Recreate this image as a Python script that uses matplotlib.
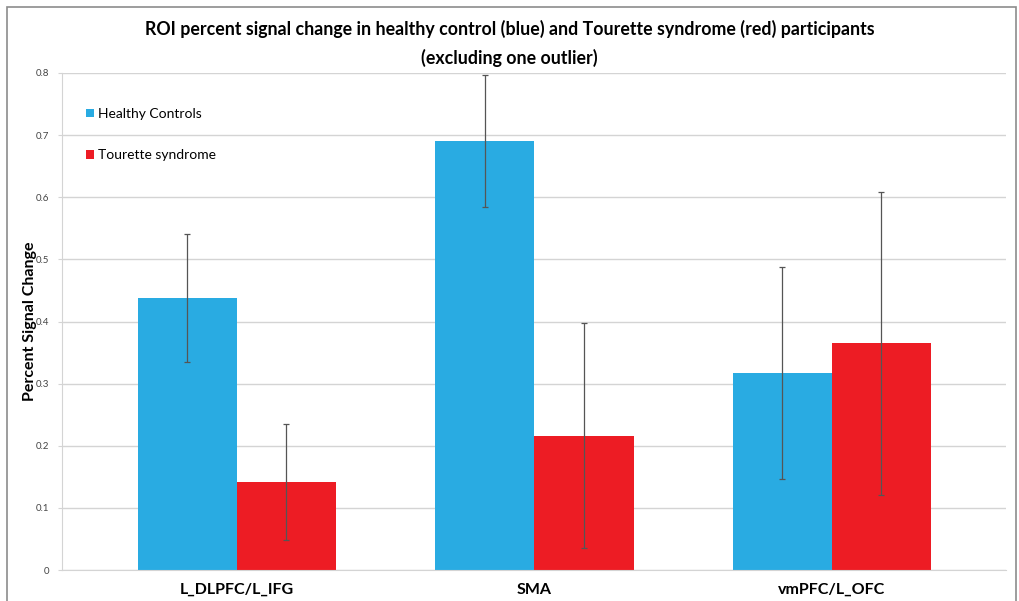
import matplotlib.pyplot as plt
import matplotlib.patches as patches
import numpy as np

regions = ["L_DLPFC/L_IFG", "SMA", "vmPFC/L_OFC"]
hc_mean = [0.438, 0.690, 0.317]
hc_err = [0.103, 0.106, 0.170]
ts_mean = [0.142, 0.216, 0.365]
ts_err = [0.093, 0.181, 0.244]

blue = "#29ABE2"
red = "#ED1C24"
grid_gray = "#D4D4D4"

plt.rcParams['font.family'] = ['Lato', 'DejaVu Sans']

fig = plt.figure(figsize=(10.19, 6.01), dpi=100)
ax = fig.add_axes([62 / 1019, 31 / 601, 944 / 1019, 497 / 601])

x = np.arange(len(regions))
w = 0.333
err_kw = dict(ecolor="#555555", elinewidth=0.9, capsize=2.5, capthick=0.9)
ax.bar(x - w / 2, hc_mean, w, color=blue, yerr=hc_err, error_kw=err_kw,
       label="Healthy Controls", zorder=2)
ax.bar(x + w / 2, ts_mean, w, color=red, yerr=ts_err, error_kw=err_kw,
       label="Tourette syndrome", zorder=2)

ax.set_xlim(-0.588, 2.585)
ax.set_ylim(0, 0.8)
ax.set_yticks(np.arange(0, 0.81, 0.1))
ax.set_yticklabels(["0"] + [f"{v:.1f}" for v in np.arange(0.1, 0.81, 0.1)])
ax.set_xticks(x)
ax.set_xticklabels(regions, fontsize=11.5, fontweight="bold")
ax.tick_params(axis="x", length=0, pad=9)
ax.tick_params(axis="y", length=3, color=grid_gray, labelsize=7, labelcolor="#444444", pad=6)

ax.grid(axis="y", color=grid_gray, linewidth=1, zorder=0)
ax.set_axisbelow(True)
for side in ["top", "right"]:
    ax.spines[side].set_visible(False)
ax.spines["left"].set_color(grid_gray)
ax.spines["bottom"].set_color(grid_gray)
ax.spines["bottom"].set_zorder(3)

ax.set_ylabel("Percent Signal Change", fontsize=11.5, fontweight="bold")
ax.yaxis.set_label_coords(-0.0265, 0.5)

ax.legend(loc="upper left", bbox_to_anchor=(0.012, 0.955), frameon=False,
          fontsize=10, handlelength=0.6, handleheight=0.6, handletextpad=0.3,
          labelspacing=2.1)

fig.suptitle("ROI percent signal change in healthy control (blue) and Tourette syndrome (red) participants\n"
             "(excluding one outlier)", x=0.5, y=0.967, fontsize=12.8, fontweight="bold",
             linespacing=1.7)

# thin gray frame around the whole figure
frame = patches.Rectangle((7 / 1019, -0.05), 1009 / 1019, 1.05 - 7 / 601,
                          transform=fig.transFigure, fill=False,
                          edgecolor="#8C8C8C", linewidth=1.2, clip_on=False)
fig.patches.append(frame)

fig.savefig("out.png", dpi=100)
